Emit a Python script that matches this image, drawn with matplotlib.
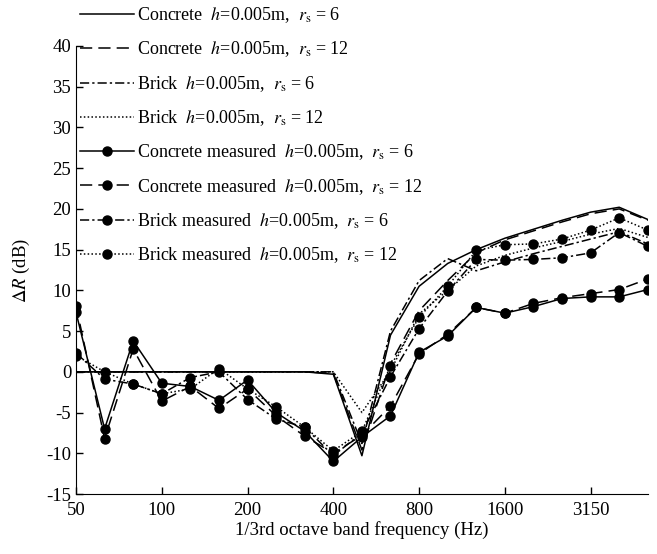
import numpy as np
import matplotlib
matplotlib.use("Agg")
from matplotlib import pyplot as plt

plt.rcParams['font.family'] = ['Liberation Serif', 'DejaVu Serif']
plt.rcParams['mathtext.fontset'] = 'stix'
plt.rcParams['axes.unicode_minus'] = False

# 1/3 octave band centre frequencies (Hz)
freqs = [50, 63, 80, 100, 125, 160, 200, 250, 315, 400, 500, 630, 800,
         1000, 1250, 1600, 2000, 2500, 3150, 4000, 5000]
tick_freqs = [50, 100, 200, 400, 800, 1600, 3150]

# predicted
concrete_6 = [0, 0, 0, 0, 0, 0, 0, 0, 0, -0.3, -10.3, 4.5, 10.5, 13.3, 15.0,
              16.4, 17.5, 18.6, 19.6, 20.2, 18.7]
concrete_12 = [0, 0, 0, 0, 0, 0, 0, 0, 0, -0.2, -9.6, 1.0, 7.5, 11.2, 14.6,
               16.2, 17.3, 18.4, 19.4, 20.0, 18.6]
brick_6 = [0, 0, 0, 0, 0, 0, 0, 0, 0, 0, -8.8, 5.0, 11.2, 13.9, 12.4,
           13.5, 14.5, 15.4, 16.3, 17.2, 15.7]
brick_12 = [0, 0, 0, 0, 0, 0, 0, 0, 0, 0, -5.0, 0.1, 7.1, 10.0, 13.0,
            14.3, 15.2, 16.0, 16.9, 17.6, 16.5]

# measured
concrete_6_meas = [7.3, -7.0, 3.8, -1.4, -1.8, -3.5, -1.0, -5.0, -7.3, -11.0, -8.0,
                   -5.4, 2.4, 4.4, 7.9, 7.2, 8.0, 9.0, 9.2, 9.2, 10.1]
concrete_12_meas = [8.1, -8.2, 2.8, -3.6, -1.8, -4.5, -2.1, -5.4, -7.9, -10.0, -7.8,
                    -4.2, 2.2, 4.6, 7.9, 7.2, 8.4, 9.1, 9.6, 10.1, 11.4]
brick_6_meas = [2.3, -0.9, -1.5, -2.7, -0.7, 0.0, -3.4, -5.8, -6.8, -10.3, -7.5,
                -0.6, 5.3, 9.9, 13.8, 13.7, 13.8, 14.0, 14.6, 17.1, 15.4]
brick_12_meas = [2.0, 0.0, -1.5, -2.7, -2.1, 0.4, -2.1, -4.3, -6.8, -9.7, -7.3,
                 0.7, 6.7, 10.5, 14.9, 15.6, 15.7, 16.3, 17.4, 18.9, 17.4]

x = np.arange(len(freqs))

fig = plt.figure(figsize=(6.57, 5.54), dpi=100)
ax = fig.add_axes([0.1157, 0.1083, 0.8703, 0.8087])

lw = 1.1
ms = 6.5
lab = r'  $h$=0.005m,  $r_{\rm s}$ = '
ax.plot(x, concrete_6, color='k', lw=lw, ls='-', label='Concrete' + lab + '6')
ax.plot(x, concrete_12, color='k', lw=lw, ls=(0, (8, 4)), label='Concrete' + lab + '12')
ax.plot(x, brick_6, color='k', lw=lw, ls=(0, (6, 2, 1.5, 2)), label='Brick' + lab + '6')
ax.plot(x, brick_12, color='k', lw=lw, ls=(0, (1, 1.5)), label='Brick' + lab + '12')
ax.plot(x, concrete_6_meas, color='k', lw=lw, ls='-', marker='o', ms=ms,
        label='Concrete measured' + lab + '6')
ax.plot(x, concrete_12_meas, color='k', lw=lw, ls=(0, (8, 4)), marker='o', ms=ms,
        label='Concrete measured' + lab + '12')
ax.plot(x, brick_6_meas, color='k', lw=lw, ls=(0, (6, 2, 1.5, 2)), marker='o', ms=ms,
        label='Brick measured' + lab + '6')
ax.plot(x, brick_12_meas, color='k', lw=lw, ls=(0, (1, 1.5)), marker='o', ms=ms,
        label='Brick measured' + lab + '12')

ax.set_xlim(0, len(freqs) - 1)
ax.set_ylim(-15, 40)
ax.set_yticks(np.arange(-15, 41, 5))
ax.set_xticks([freqs.index(f) for f in tick_freqs])
ax.set_xticklabels([str(f) for f in tick_freqs])
ax.tick_params(direction='in', labelsize=13.5, length=5, width=1)
ax.tick_params(axis='x', pad=6)
ax.spines['top'].set_visible(False)
ax.spines['right'].set_visible(False)
ax.set_xlabel('1/3rd octave band frequency (Hz)', fontsize=13.5, labelpad=1)
ax.set_ylabel(r'$\Delta R$ (dB)', fontsize=13.5, labelpad=10)

leg = ax.legend(loc='upper left', bbox_to_anchor=(0.113, 1.0), bbox_transform=fig.transFigure,
                frameon=False, fontsize=13, handlelength=3.0, handletextpad=0.15,
                labelspacing=0.8, numpoints=1, borderaxespad=0, borderpad=0.3)

fig.savefig('out.png', dpi=100)
